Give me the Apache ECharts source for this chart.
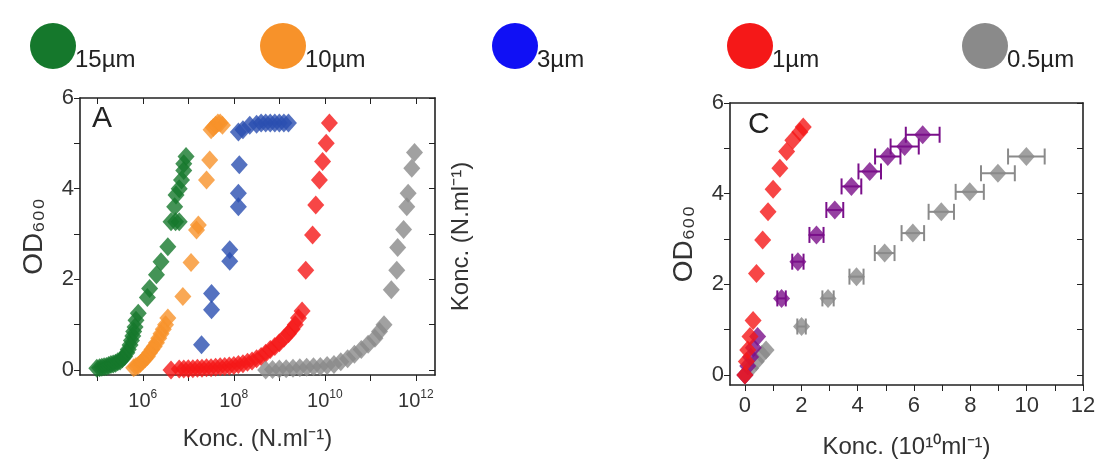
<!DOCTYPE html>
<html>
<head>
<meta charset="utf-8">
<script src="https://cdn.jsdelivr.net/npm/echarts@6/dist/echarts.min.js"></script>
<style>
  html, body { margin: 0; padding: 0; background: #fff; }
  #chart { width: 1108px; height: 471px; }
</style>
</head>
<body>
<div id="chart"></div>
<script>
// legend entries
const LEGEND_LABELS = ['15µm', '10µm', '3µm', '1µm', '0.5µm']
const LEGEND_COLORS = ['#15782c', '#f7922a', '#1010f5', '#f51818', '#8a8a8a']

// panel A: [log10(concentration), OD600]
const A_GREEN = [[4.99, 0.04], [5.05, 0.05], [5.1, 0.06], [5.15, 0.07], [5.2, 0.08], [5.25, 0.1], [5.3, 0.12], [5.35, 0.13], [5.4, 0.15], [5.45, 0.18], [5.5, 0.2], [5.55, 0.25], [5.6, 0.3], [5.65, 0.38], [5.68, 0.45], [5.72, 0.55], [5.75, 0.65], [5.78, 0.75], [5.8, 0.85], [5.83, 0.95], [5.85, 1.1], [5.9, 1.25], [6.1, 1.6], [6.15, 1.8], [6.3, 2.1], [6.4, 2.39], [6.55, 2.72], [6.62, 3.27], [6.72, 3.27], [6.8, 3.27], [6.7, 3.6], [6.73, 3.86], [6.8, 4.0], [6.85, 4.19], [6.9, 4.4], [6.9, 4.55], [6.95, 4.71]]
const A_ORANGE = [[5.8, 0.05], [5.85, 0.08], [5.9, 0.1], [5.95, 0.15], [6.0, 0.2], [6.05, 0.25], [6.1, 0.3], [6.15, 0.38], [6.2, 0.45], [6.25, 0.52], [6.3, 0.6], [6.35, 0.7], [6.4, 0.8], [6.45, 0.9], [6.5, 1.0], [6.55, 1.15], [6.88, 1.62], [7.06, 2.37], [7.18, 3.09], [7.22, 3.2], [7.4, 4.19], [7.47, 4.63], [7.5, 5.3], [7.55, 5.35], [7.6, 5.4], [7.65, 5.45], [7.7, 5.45], [7.75, 5.4]]
const A_BLUE = [[7.29, 0.56], [7.51, 1.33], [7.51, 1.69], [7.91, 2.4], [7.91, 2.65], [8.1, 3.6], [8.1, 3.9], [8.12, 4.53], [8.1, 5.25], [8.2, 5.3], [8.35, 5.4], [8.5, 5.42], [8.6, 5.45], [8.7, 5.45], [8.8, 5.45], [8.9, 5.45], [9.0, 5.45], [9.1, 5.45], [9.2, 5.45]]
const A_RED = [[6.62, 0.0], [6.8, 0.02], [6.9, 0.02], [7.0, 0.03], [7.1, 0.03], [7.2, 0.04], [7.3, 0.04], [7.4, 0.05], [7.5, 0.05], [7.6, 0.06], [7.7, 0.07], [7.8, 0.08], [7.9, 0.09], [8.0, 0.1], [8.1, 0.12], [8.2, 0.14], [8.3, 0.17], [8.4, 0.2], [8.5, 0.25], [8.6, 0.3], [8.7, 0.37], [8.8, 0.45], [8.9, 0.52], [9.0, 0.6], [9.1, 0.7], [9.2, 0.8], [9.28, 0.9], [9.35, 1.0], [9.42, 1.15], [9.5, 1.3], [9.58, 2.2], [9.73, 2.98], [9.8, 3.64], [9.88, 4.19], [9.95, 4.6], [10.03, 5.0], [10.1, 5.45]]
const A_GRAY = [[8.7, 0.0], [8.85, 0.01], [9.0, 0.02], [9.15, 0.03], [9.3, 0.04], [9.45, 0.05], [9.6, 0.06], [9.75, 0.07], [9.9, 0.08], [10.05, 0.1], [10.2, 0.12], [10.35, 0.18], [10.5, 0.25], [10.65, 0.35], [10.8, 0.45], [10.95, 0.57], [11.1, 0.7], [11.2, 0.85], [11.3, 1.0], [11.46, 1.77], [11.58, 2.2], [11.6, 2.7], [11.73, 3.1], [11.8, 3.6], [11.83, 3.9], [11.91, 4.45], [11.97, 4.8]]
const A_X_TICKS = [6, 8, 10, 12]
const Y_TICKS = [0, 2, 4, 6]

// panel C: [concentration (1e10/ml), OD600, x error]
const C_RED = [[0.0, 0.0, 0], [0.05, 0.3, 0], [0.1, 0.55, 0], [0.18, 0.85, 0], [0.29, 1.2, 0], [0.41, 2.24, 0], [0.63, 2.98, 0], [0.82, 3.6, 0], [1.0, 4.1, 0], [1.24, 4.56, 0], [1.48, 4.93, 0], [1.7, 5.18, 0], [1.95, 5.36, 0], [2.07, 5.47, 0]]
const C_PURPLE = [[0.0, 0.0, 0], [0.1, 0.2, 0], [0.2, 0.4, 0], [0.3, 0.6, 0], [0.45, 0.85, 0], [1.3, 1.69, 0.15], [1.88, 2.5, 0.2], [2.54, 3.09, 0.25], [3.19, 3.64, 0.3], [3.78, 4.16, 0.35], [4.43, 4.49, 0.4], [5.07, 4.82, 0.45], [5.67, 5.04, 0.5], [6.31, 5.3, 0.6]]
const C_GRAY = [[0.0, 0.0, 0], [0.2, 0.15, 0], [0.4, 0.3, 0], [0.6, 0.45, 0], [0.75, 0.55, 0], [2.01, 1.07, 0.15], [2.95, 1.69, 0.2], [3.96, 2.17, 0.25], [4.96, 2.69, 0.35], [5.96, 3.13, 0.4], [6.97, 3.6, 0.45], [7.98, 4.04, 0.5], [8.98, 4.45, 0.6], [9.99, 4.82, 0.65]]
const C_X_TICKS = [0, 2, 4, 6, 8, 10, 12]
const PURPLE = '#7a0f8a'

const FONT = 'Liberation Sans, Arial, sans-serif'
const chart = echarts.init(document.getElementById('chart'))

const line = () => ({ show: true, onZero: false, lineStyle: { color: '#222', width: 1.6 } })
const TICK_A = [5, 6, 7, 8, 9, 10, 11, 12]
const TICK_Y = [0, 1, 2, 3, 4, 5, 6]

const scatter = (name, data, color, xi, yi) => ({
  name, type: 'scatter', xAxisIndex: xi, yAxisIndex: yi,
  data: data.map(d => [d[0], d[1]]),
  symbol: 'diamond', symbolSize: [17, 19],
  itemStyle: { color }
})

const errorBars = (data, color) => ({
  type: 'custom', xAxisIndex: 2, yAxisIndex: 2, z: 1,
  data: data.filter(d => d[2] > 0),
  renderItem: (params, api) => {
    const x = api.value(0), y = api.value(1), e = api.value(2)
    const a = api.coord([x - e, y]), b = api.coord([x + e, y])
    const st = { stroke: color, lineWidth: 2 }
    return {
      type: 'group', children: [
        { type: 'line', shape: { x1: a[0], y1: a[1], x2: b[0], y2: b[1] }, style: st },
        { type: 'line', shape: { x1: a[0], y1: a[1] - 8, x2: a[0], y2: a[1] + 8 }, style: st },
        { type: 'line', shape: { x1: b[0], y1: b[1] - 8, x2: b[0], y2: b[1] + 8 }, style: st }
      ]
    }
  }
})

const legendGraphics = LEGEND_LABELS.flatMap((label, i) => {
  const cx = [53, 283, 515, 750, 985][i]
  return [
    { type: 'circle', shape: { cx, cy: 46, r: 23 }, style: { fill: LEGEND_COLORS[i] } },
    { type: 'text', x: cx + 22, y: 60, style: { text: label, font: '24px ' + FONT, fill: '#222', verticalAlign: 'middle' } }
  ]
})

const supLabel = v => '{b|10}{s|' + v + '}'

chart.setOption({
  animation: false,
  textStyle: { fontFamily: FONT },
  grid: [
    { left: 80, right: 673, top: 98, bottom: 96 },
    { left: 730, right: 25, top: 103, bottom: 86 }
  ],
  xAxis: [
    {
      gridIndex: 0, type: 'value', min: 4.62, max: 12.42, position: 'bottom',
      splitLine: { show: false }, axisLine: line(),
      axisTick: { customValues: TICK_A, length: 6 },
      axisLabel: {
        customValues: A_X_TICKS, formatter: supLabel, margin: 14,
        rich: { b: { fontSize: 20, color: '#333' }, s: { fontSize: 12, color: '#333', verticalAlign: 'top', padding: [0, 0, 12, 0] } }
      },
      name: 'Konc. (N.ml⁻¹)', nameLocation: 'middle', nameGap: 52,
      nameTextStyle: { fontSize: 24, color: '#333' }
    },
    {
      gridIndex: 0, type: 'value', min: 4.62, max: 12.42, position: 'top',
      splitLine: { show: false }, axisLine: line(), axisLabel: { show: false },
      axisTick: { inside: true, customValues: TICK_A, length: 6 }
    },
    {
      gridIndex: 1, type: 'value', min: -0.53, max: 12, position: 'bottom',
      splitLine: { show: false }, axisLine: line(),
      axisTick: { customValues: [0, 1, 2, 3, 4, 5, 6, 7, 8, 9, 10, 11, 12], length: 6 },
      axisLabel: { customValues: C_X_TICKS, fontSize: 22, color: '#333', margin: 10 },
      name: 'Konc. (10¹⁰ml⁻¹)', nameLocation: 'middle', nameGap: 50,
      nameTextStyle: { fontSize: 24, color: '#333' }
    },
    {
      gridIndex: 1, type: 'value', min: -0.53, max: 12, position: 'top',
      splitLine: { show: false }, axisLine: line(), axisLabel: { show: false }, axisTick: { show: false }
    }
  ],
  yAxis: [
    {
      gridIndex: 0, type: 'value', min: -0.11, max: 6, position: 'left',
      splitLine: { show: false }, axisLine: line(),
      axisTick: { customValues: TICK_Y, length: 6 },
      axisLabel: { customValues: Y_TICKS, fontSize: 22, color: '#333', margin: 6 },
      name: 'OD₆₀₀', nameLocation: 'middle', nameGap: 32,
      nameTextStyle: { fontSize: 28, color: '#333' }
    },
    {
      gridIndex: 0, type: 'value', min: -0.11, max: 6, position: 'right',
      splitLine: { show: false }, axisLine: line(), axisLabel: { show: false },
      axisTick: { inside: true, customValues: TICK_Y, length: 6 },
      name: 'Konc. (N.ml⁻¹)', nameLocation: 'middle', nameGap: 14, nameRotate: 90,
      nameTextStyle: { fontSize: 24, color: '#333', verticalAlign: 'top' }
    },
    {
      gridIndex: 1, type: 'value', min: -0.22, max: 6, position: 'left',
      splitLine: { show: false }, axisLine: line(),
      axisTick: { customValues: TICK_Y, length: 6 },
      axisLabel: { customValues: Y_TICKS, fontSize: 22, color: '#333', margin: 6 },
      name: 'OD₆₀₀', nameLocation: 'middle', nameGap: 32,
      nameTextStyle: { fontSize: 28, color: '#333' }
    },
    {
      gridIndex: 1, type: 'value', min: -0.22, max: 6, position: 'right',
      splitLine: { show: false }, axisLine: line(), axisLabel: { show: false },
      axisTick: { inside: true, customValues: TICK_Y, length: 6 }
    }
  ],
  graphic: legendGraphics.concat([
    { type: 'text', x: 92, y: 104, style: { text: 'A', font: '30px ' + FONT, fill: '#222' } },
    { type: 'text', x: 748, y: 110, style: { text: 'C', font: '30px ' + FONT, fill: '#222' } }
  ]),
  series: [
    scatter('15µm', A_GREEN, LEGEND_COLORS[0], 0, 0),
    scatter('10µm', A_ORANGE, LEGEND_COLORS[1], 0, 0),
    scatter('3µm', A_BLUE, '#2a4fb0', 0, 0),
    scatter('1µm', A_RED, LEGEND_COLORS[3], 0, 0),
    scatter('0.5µm', A_GRAY, LEGEND_COLORS[4], 0, 0),
    errorBars(C_GRAY, LEGEND_COLORS[4]),
    errorBars(C_PURPLE, PURPLE),
    scatter('gray C', C_GRAY, LEGEND_COLORS[4], 2, 2),
    scatter('purple C', C_PURPLE, PURPLE, 2, 2),
    scatter('red C', C_RED, LEGEND_COLORS[3], 2, 2)
  ]
})
</script>
</body>
</html>
